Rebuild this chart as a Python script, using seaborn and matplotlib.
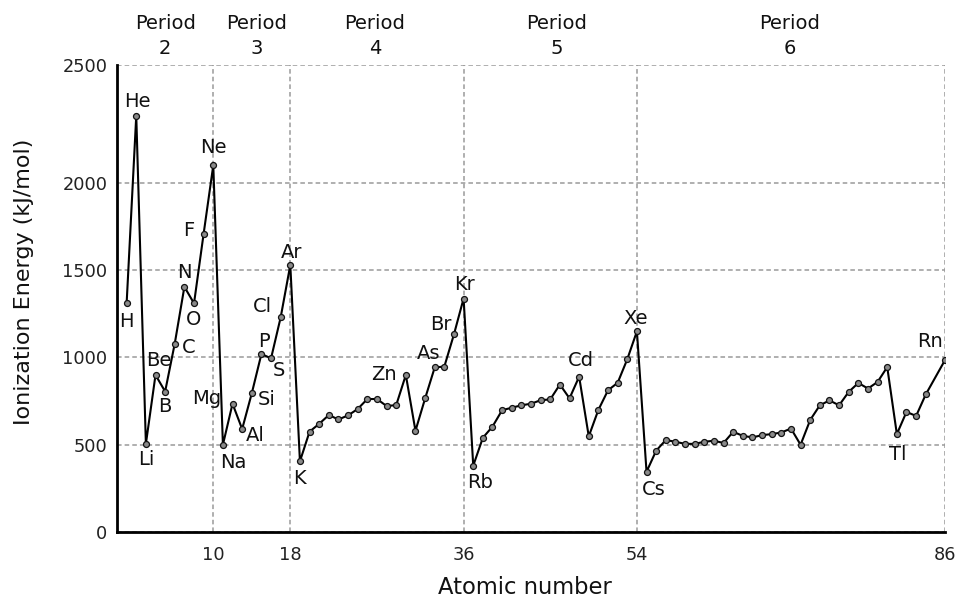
import numpy as np
import pandas as pd
import matplotlib
matplotlib.use("Agg")
import matplotlib.pyplot as plt
import matplotlib.transforms as mtransforms
import seaborn as sns

# ---- data ----
atomic_number = list(range(1, 85)) + [86]
ionization_energy = [
    1310, 2285, 505, 900, 805, 1080, 1405, 1310, 1710, 2075,          # 1-10
    500, 735, 590, 795, 1020, 995, 1230, 1530,                         # 11-18
    405, 575, 620, 670, 645, 668, 705, 762, 762, 722, 727, 900,        # 19-30
    580, 765, 943, 948, 1133, 1338,                                    # 31-36
    380, 540, 604, 698, 712, 726, 735, 755, 760, 845, 766, 890,        # 37-48
    548, 700, 812, 855, 990, 1150,                                     # 49-54
    345, 466, 527, 517, 505, 505, 517, 523, 510, 574, 551, 542,        # 55-66
    555, 561, 570, 593, 500, 642, 726, 754, 726, 803, 854, 822,        # 67-78
    860, 945, 561, 688, 665, 788, 985,                                 # 79-84, 86
]
label_symbols = ["H", "He", "Li", "Be", "B", "C", "N", "O", "F", "Ne",
                 "Na", "Mg", "Al", "Si", "P", "S", "Cl", "Ar", "K",
                 "Zn", "As", "Br", "Kr", "Rb", "Cd", "Xe", "Cs", "Tl", "Rn"]
label_numbers = [1, 2, 3, 4, 5, 6, 7, 8, 9, 10,
                 11, 12, 13, 14, 15, 16, 17, 18, 19,
                 30, 33, 35, 36, 37, 48, 54, 55, 81, 86]
x_ticks = [10, 18, 36, 54, 86]
y_ticks = [0, 500, 1000, 1500, 2000, 2500]
period_numbers = ["2", "3", "4", "5", "6"]
period_centers = [5.0, 14.5, 26.8, 45.7, 69.9]

# label offsets in pixels (dx, dy up)
label_offsets = {
    "H": (0, -18), "He": (1, 14), "Li": (0, -16), "Be": (3, 14), "B": (0, -15),
    "C": (14, -4), "N": (0, 14), "O": (0, -16), "F": (-15, 3), "Ne": (0, 18),
    "Na": (10, -18), "Mg": (-26, 5), "Al": (13, -6), "Si": (15, -6), "P": (3, 12),
    "S": (8, -12), "Cl": (-18, 11), "Ar": (1, 12), "K": (0, -17), "Zn": (-22, 0),
    "As": (-6, 14), "Br": (-13, 10), "Kr": (1, 14), "Rb": (7, -17), "Cd": (2, 16),
    "Xe": (-1, 13), "Cs": (7, -18), "Tl": (1, -20), "Rn": (-15, 19),
}

df = pd.DataFrame({"Z": atomic_number, "IE": ionization_energy})

sns.set_theme(style="white")
plt.rcParams["font.family"] = ["DejaVu Sans"]

W, H = 956, 598
fig = plt.figure(figsize=(W / 100, H / 100), dpi=100)
ax = fig.add_axes([117 / W, 1 - 532 / H, (945 - 117) / W, (532 - 65) / H])

# the printed axis stretches the 2000-2500 band
K = 1.352
def fwd(y):
    y = np.asarray(y, dtype=float)
    return np.where(y <= 2000, y, 2000 + (y - 2000) * K)
def inv(y):
    y = np.asarray(y, dtype=float)
    return np.where(y <= 2000, y, 2000 + (y - 2000) / K)
ax.set_yscale("function", functions=(fwd, inv))

sns.lineplot(data=df, x="Z", y="IE", ax=ax, color="black", linewidth=1.5,
             marker="o", markersize=4.3, markerfacecolor="#8a8a8a",
             markeredgecolor="#111111", markeredgewidth=0.9, zorder=3)

ax.set_xlim(0, 86)
ax.set_ylim(0, 2500)
ax.set_xticks(x_ticks)
ax.set_yticks(y_ticks)
ax.set_xticklabels([str(t) for t in x_ticks])
ax.set_yticklabels([str(t) for t in y_ticks])
ax.tick_params(axis="both", length=0, labelsize=12.8, colors="#222222")
ax.tick_params(axis="x", pad=10)
ax.tick_params(axis="y", pad=7)

ax.grid(True, color="#9a9a9a", linestyle=(0, (3, 2)), linewidth=1.1)
ax.set_axisbelow(True)
for s in ["top", "right"]:
    ax.spines[s].set_visible(False)
for s in ["left", "bottom"]:
    ax.spines[s].set_color("black")
    ax.spines[s].set_linewidth(2)
ax.set_facecolor("white")

ax.set_xlabel("Atomic number", fontsize=16.3, color="#111111")
ax.xaxis.set_label_coords((525 - 117) / 828, (532 - 587) / 467)
ax.xaxis.label.set_va("center")
ax.set_ylabel("Ionization Energy (kJ/mol)", fontsize=16, color="#111111")
ax.yaxis.set_label_coords((24 - 117) / 828, (532 - 282) / 467)
ax.yaxis.label.set_va("center")
ax.yaxis.label.set_ha("center")

ie_lookup = dict(zip(atomic_number, ionization_energy))
for sym, z in zip(label_symbols, label_numbers):
    dx, dy = label_offsets[sym]
    ax.annotate(sym, xy=(z, ie_lookup[z]), xytext=(dx * 0.72, dy * 0.72),
                textcoords="offset points", ha="center", va="center",
                fontsize=14, color="#111111", zorder=4)

trans = mtransforms.blended_transform_factory(ax.transData, ax.transAxes)
for num, xc in zip(period_numbers, period_centers):
    ax.text(xc, (532 - 23.5) / 467, "Period", transform=trans, ha="center",
            va="center", fontsize=14, color="#111111", clip_on=False)
    ax.text(xc, (532 - 48.5) / 467, num, transform=trans, ha="center",
            va="center", fontsize=14, color="#111111", clip_on=False)

fig.savefig("out.png", dpi=100, facecolor="white")
